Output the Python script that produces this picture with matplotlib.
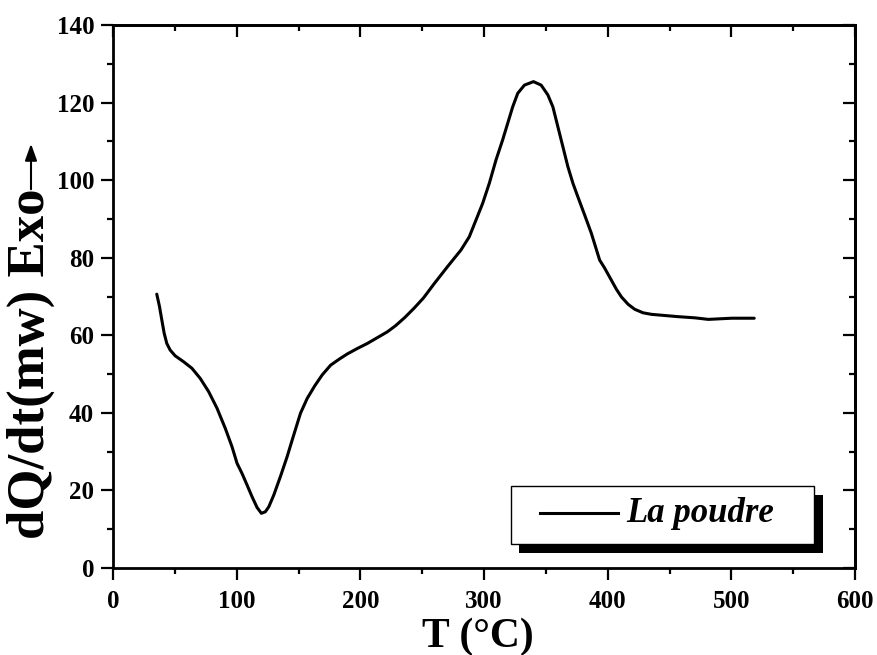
import matplotlib
matplotlib.use("Agg")
import matplotlib.pyplot as plt
from matplotlib.patches import Rectangle, FancyArrowPatch
from matplotlib.lines import Line2D
from matplotlib.ticker import MultipleLocator

plt.rcParams['font.family'] = ['Liberation Serif', 'DejaVu Serif']
plt.rcParams['font.weight'] = 'bold'

# DSC heat-flow trace of the powder sample
temperature = [35.4, 37.6, 39.5, 41.4, 43.5, 46.2, 50.3, 57.0, 63.8, 70.5,
               77.3, 84.1, 90.8, 96.2, 100.3, 104.3, 108.4, 112.4, 116.5, 120.0,
               123.2, 126.0, 130.0, 135.4, 140.8, 144.9, 151.6, 157.0, 163.0, 169.2,
               176.0, 182.7, 189.5, 197.6, 205.7, 213.8, 221.9, 228.6, 236.0, 243.5,
               251.0, 259.7, 270.5, 281.4, 288.1, 293.5, 298.9, 304.3, 309.7, 315.1,
               319.2, 323.2, 327.3, 332.7, 340.0, 346.2, 351.6, 355.7, 359.7, 363.8,
               367.8, 371.9, 375.9, 381.4, 386.8, 393.5, 397.6, 403.0, 407.0, 411.1,
               416.5, 421.9, 428.6, 435.4, 446.2, 457.0, 470.5, 481.4, 500.3, 518.5]
heat_flow = [70.6, 67.4, 63.9, 60.5, 57.9, 56.2, 54.7, 53.2, 51.5, 48.9,
             45.5, 41.2, 36.0, 31.3, 27.0, 24.4, 21.4, 18.4, 15.6, 14.1,
             14.5, 15.8, 18.8, 23.6, 28.7, 33.0, 39.9, 43.7, 46.9, 49.8,
             52.3, 53.8, 55.2, 56.6, 57.9, 59.4, 60.9, 62.5, 64.6, 67.0,
             69.6, 73.3, 77.7, 82.0, 85.4, 89.7, 94.0, 99.2, 105.2, 110.4,
             114.7, 118.9, 122.4, 124.5, 125.4, 124.5, 122.0, 118.9, 113.8, 108.6,
             103.5, 99.2, 95.7, 91.0, 86.3, 79.4, 77.3, 74.2, 71.9, 69.9,
             68.0, 66.7, 65.8, 65.4, 65.1, 64.8, 64.5, 64.1, 64.4, 64.4]
series_label = "La poudre"

W, H = 877, 655
fig = plt.figure(figsize=(W / 100, H / 100), dpi=100)
ax = fig.add_axes([113 / W, 87 / H, 742 / W, 543 / H])

ax.plot(temperature, heat_flow, color='black', lw=2.2,
        solid_capstyle='round', solid_joinstyle='round')

ax.set_xlim(0, 600)
ax.set_ylim(0, 140)
ax.xaxis.set_major_locator(MultipleLocator(100))
ax.xaxis.set_minor_locator(MultipleLocator(50))
ax.yaxis.set_major_locator(MultipleLocator(20))
ax.yaxis.set_minor_locator(MultipleLocator(10))

for s in ax.spines.values():
    s.set_linewidth(2.0)

ax.tick_params(which='both', direction='out', width=1.6, labelsize=18, top=False, right=False)
ax.tick_params(which='major', length=8.5)
ax.tick_params(which='minor', length=4.5)
ax.tick_params(axis='x', pad=7)
ax.tick_params(axis='y', pad=5)
for lab in ax.get_xticklabels() + ax.get_yticklabels():
    lab.set_fontweight('bold')

# inward ticks on the top and right edges
top = ax.secondary_xaxis('top')
top.xaxis.set_major_locator(MultipleLocator(100))
top.xaxis.set_minor_locator(MultipleLocator(50))
top.tick_params(which='both', direction='in', width=1.6, labeltop=False)
top.tick_params(which='major', length=8.5)
top.tick_params(which='minor', length=4.5)
top.spines['top'].set_linewidth(2.0)

right = ax.secondary_yaxis('right')
right.yaxis.set_major_locator(MultipleLocator(20))
right.yaxis.set_minor_locator(MultipleLocator(10))
right.tick_params(which='both', direction='in', width=1.6, labelright=False)
right.tick_params(which='major', length=8.5)
right.tick_params(which='minor', length=4.5)
right.spines['right'].set_linewidth(2.0)

# axis titles
fig.text(478 / W, 1 - 637 / H, "T (°C)", fontsize=30, fontweight='bold',
         ha='center', va='center')
fig.text(31 / W, 1 - 364 / H, "dQ/dt(mw) Exo", fontsize=38, fontweight='bold',
         rotation=90, ha='center', va='center')
fig.add_artist(FancyArrowPatch(
    (31 / W, 1 - 192 / H), (31 / W, 1 - 141 / H),
    transform=fig.transFigure, arrowstyle='-|>,head_length=0.5,head_width=0.18',
    mutation_scale=20, lw=1.5, color='black'))

# legend box with a solid drop shadow, placed in pixel units of the figure
def fx(px):
    return px / W


def fy(py):
    return 1 - py / H


fig.add_artist(Rectangle((fx(519), fy(553)), fx(823) - fx(519), fy(495) - fy(553),
                         transform=fig.transFigure, facecolor='black', edgecolor='none',
                         zorder=5))
fig.add_artist(Rectangle((fx(511), fy(544)), fx(814) - fx(511), fy(486) - fy(544),
                         transform=fig.transFigure, facecolor='white', edgecolor='black',
                         lw=1.0, zorder=6))
fig.add_artist(Line2D([fx(540), fx(618)], [fy(513), fy(513)], transform=fig.transFigure,
                      color='black', lw=2.2, zorder=7))
fig.text(fx(626), fy(513), series_label, fontsize=25, fontweight='bold', fontstyle='italic',
         ha='left', va='center', zorder=7)

fig.savefig("out.png", dpi=100)
